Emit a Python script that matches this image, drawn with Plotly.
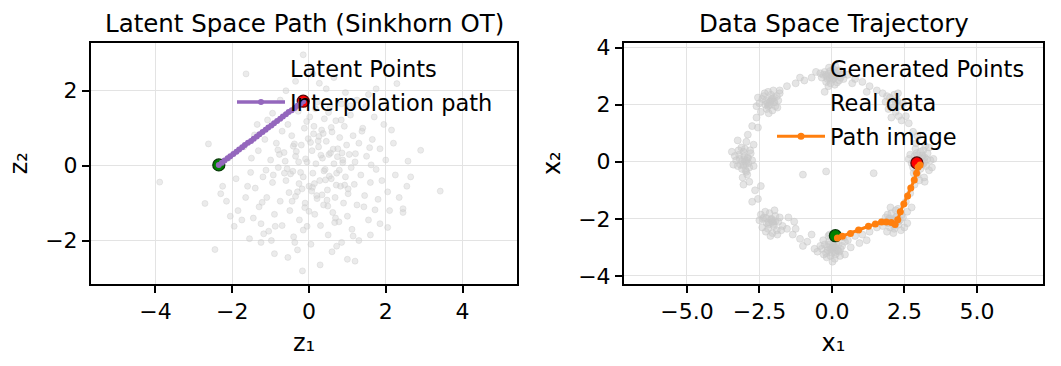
import plotly.graph_objects as go

# ---------------- data: latent space ----------------
latent_x = [-3.89,-2.71,-2.45,-1.64,-0.15,2.91,3.42,2.29,0.29,-0.17,1.20,1.30,-2.62,-2.25,-2.15,-2.05,-1.95,-1.85,-1.75,-1.65,
            -1.55,-1.45,-1.40,-1.30,-1.25,-1.20,-1.10,-1.05,-1.00,-0.95,-0.90,-0.85,-0.80,-0.75,-0.70,-0.65,-0.60,-0.55,-0.50,-0.45,
            -0.42,-0.40,-0.35,-0.30,-0.28,-0.25,-0.20,-0.15,-0.12,-0.10,-0.05,0.00,0.02,0.05,0.08,0.10,0.12,0.15,0.18,0.20,
            0.22,0.25,0.28,0.30,0.33,0.35,0.38,0.40,0.42,0.45,0.48,0.50,0.52,0.55,0.58,0.60,0.62,0.65,0.68,0.70,
            0.72,0.75,0.78,0.80,0.82,0.85,0.88,0.90,0.92,0.95,0.98,1.00,1.02,1.05,1.08,1.10,1.12,1.15,1.18,1.20,
            1.25,1.30,1.35,1.40,1.45,1.50,1.55,1.60,1.65,1.70,1.75,1.80,1.85,1.90,1.95,2.00,2.05,2.10,2.20,2.25,
            2.35,2.45,2.55,2.65,-2.30,-2.10,-1.90,-1.70,-1.50,-1.35,-1.15,-0.95,-0.75,-0.60,-0.35,0.10,0.45,0.65,0.95,1.25,
            1.55,1.75,-1.25,-0.90,-0.55,-0.30,0.60,0.85,1.00,1.60,1.85,2.05,2.45,
            -0.62,-0.48,-0.33,-0.18,-0.02,0.14,0.31,0.47,0.63,0.79,-0.70,-0.52,-0.38,-0.22,-0.06,0.09,0.26,0.43,0.58,0.74,
            -0.44,-0.27,-0.11,0.04,0.21,0.37,0.53,0.69,0.86,1.02,-0.81,-0.64,-0.15,0.00,0.17,0.34,0.51,0.67,0.84,1.15,
            -1.60,-1.42,-1.18,-0.98,-1.32,-1.08,-0.88,-1.52,-1.22,1.38,1.58,1.72,1.48,2.15,2.58,0.27,-0.37,0.72,1.08,-0.05,
            -0.57,-0.41,-0.26,-0.09,0.07,0.24,0.39,0.56,0.71,0.88,-0.93,-0.77,-0.35,0.13,0.49,0.93,1.21,1.43,-1.12,1.62]
latent_y = [-0.44,-1.01,-2.24,2.45,2.96,0.41,-0.68,2.19,-2.65,-2.81,-2.55,-2.00,0.58,-0.55,-0.95,-1.35,-1.62,-1.20,-1.45,-0.85,
            -1.95,-1.40,-0.60,-1.10,-1.55,-0.30,-0.85,-1.75,0.15,-0.45,-1.30,0.60,-0.05,-0.95,-1.60,0.35,-0.40,1.10,-1.20,0.80,
            -0.15,-1.90,0.25,-0.70,1.45,-1.45,0.55,-0.30,1.00,-1.00,0.10,-0.55,1.30,-2.10,0.40,-0.20,0.85,-1.30,0.05,-0.80,
            1.70,0.50,-0.40,-1.60,0.95,0.20,-1.05,1.25,-0.10,0.65,-0.65,-1.85,0.30,1.55,-0.35,0.90,-1.25,0.05,-0.85,1.20,
            -0.20,0.45,-1.50,0.75,-0.55,1.65,0.15,-1.00,1.05,-0.30,0.55,-1.35,-0.75,0.30,1.35,-0.05,-1.70,0.80,-0.50,0.10,
            -1.05,0.60,-0.25,1.00,-0.80,0.25,-1.45,-0.45,0.70,1.30,-0.10,-0.90,0.45,-0.40,1.10,0.15,-0.70,-1.20,0.60,-0.25,
            -0.85,-1.25,-0.55,-0.30,-0.75,0.20,-0.35,0.50,0.20,1.10,0.70,1.40,1.75,2.00,2.25,2.45,2.05,2.35,1.95,1.75,
            1.90,2.05,-2.05,-2.35,-2.45,-2.25,-2.30,-2.05,-2.50,-1.85,-1.55,-1.65,-1.15,
            0.12,-0.22,0.38,-0.62,0.72,-0.48,0.28,-0.92,0.44,-0.12,0.92,-0.72,0.58,-0.18,1.18,-0.58,0.78,-0.38,1.02,0.24,
            -0.95,0.10,-1.12,0.62,-0.88,0.86,-0.28,-1.40,0.34,-0.62,0.42,-0.20,-1.72,-1.22,1.52,-0.78,1.42,-1.52,1.22,-1.88,
            -0.55,0.82,-1.82,-2.00,0.40,1.22,-1.62,-0.18,-0.98,0.92,0.48,-1.18,1.58,0.95,0.12,2.20,-2.05,-2.15,1.60,-1.62,
            -0.08,0.52,-0.48,0.18,-0.68,0.66,-0.14,0.34,-0.52,0.08,-0.25,0.30,-0.82,1.05,-1.08,-0.52,0.32,-1.10,-0.12,0.02]

latent_path_x = [-2.35,-2.27,-2.20,-2.12,-2.05,-1.97,-1.89,-1.82,-1.74,-1.67,-1.59,-1.51,-1.44,-1.36,-1.29,
                 -1.21,-1.13,-1.06,-0.98,-0.91,-0.83,-0.75,-0.68,-0.60,-0.53,-0.45,-0.37,-0.30,-0.22,-0.15]
latent_path_y = [0.02,0.08,0.14,0.20,0.25,0.31,0.37,0.43,0.49,0.55,0.61,0.66,0.72,0.78,0.84,
                 0.90,0.96,1.02,1.07,1.13,1.19,1.25,1.31,1.37,1.43,1.48,1.54,1.60,1.66,1.72]
latent_start = (-2.35, 0.02)
latent_end = (-0.15, 1.72)

# ---------------- data: data space ----------------
real_x = [2.95,3.10,2.85,3.20,3.05,2.75,3.30,2.90,3.15,3.00,2.80,3.25,3.40,2.70,3.05,2.95,3.18,2.88,3.35,3.08,2.65,3.22,2.98,3.12,2.82,3.45,3.02,2.92,3.28,3.15,
          0.00,0.15,-0.15,0.25,-0.25,0.05,-0.05,0.35,-0.35,0.10,-0.10,0.20,-0.20,0.30,-0.30,0.02,-0.40,0.40,0.12,-0.12,0.08,-0.18,0.28,-0.08,0.18,
          -2.15,-2.00,-2.30,-1.95,-2.40,-2.10,-2.25,-1.85,-2.50,-2.05,-2.20,-1.90,-2.35,-2.60,-1.80,-2.12,-2.28,-2.02,-2.45,-1.98,-2.18,-2.32,-1.88,-2.08,-2.55,
          -3.00,-2.90,-3.15,-2.85,-3.20,-3.05,-2.95,-3.30,-2.80,-3.10,-2.75,-3.25,-3.00,-2.92,-3.18,-3.35,-2.88,-3.08,-2.70,-3.22,-3.02,-2.98,-3.12,-2.82,-3.40,
          -2.10,-1.95,-2.25,-2.00,-2.35,-1.85,-2.15,-2.40,-1.90,-2.05,-2.30,-1.80,-2.20,-2.50,-1.70,-2.08,-1.98,-2.28,-2.45,-1.88,-2.18,-2.02,-2.38,-1.75,-2.12,
          0.00,0.15,-0.15,0.25,-0.25,0.05,-0.05,0.35,-0.35,0.10,-0.10,0.20,-0.20,0.30,-0.30,0.02,-0.40,0.45,0.12,-0.12,0.08,-0.18,0.28,-0.08,0.18,-0.50,0.40,-0.02,0.22,-0.28,
          2.10,2.25,1.95,2.30,1.85,2.15,2.40,2.00,2.20,1.90,2.35,2.05,2.50,1.80,2.12,2.28,1.98,2.45,2.18,1.75,2.02,2.38,2.22,1.92,2.60,
          2.10,2.25,1.95,2.35,2.00,2.20,2.45,1.85,2.15,2.30,2.05,2.40,1.90,2.28,2.12,
          3.02,2.92,3.10,2.85,3.00,3.18,2.96,-0.02,0.10,-0.12,0.05,-0.06,0.16,-2.12,-2.22,-2.05,-2.18,-2.00,
          -3.02,-2.95,-3.10,-2.90,-3.05,-2.10,-2.18,-2.02,-2.25,-1.95,0.04,-0.06,0.12,-0.16,0.00,0.22,
          2.12,2.02,2.20,2.30,1.98,2.15]
real_y = [0.05,-0.10,0.20,0.15,-0.25,-0.05,0.30,-0.35,0.40,0.10,-0.20,-0.15,0.05,0.25,0.35,-0.45,-0.55,0.45,-0.30,-0.02,0.10,0.55,-0.12,0.22,-0.40,-0.20,-0.65,0.30,0.08,-0.08,
          3.00,3.10,2.90,2.85,3.15,3.25,2.75,3.05,2.95,2.70,3.30,3.20,2.80,2.95,3.05,2.88,3.10,2.90,3.35,2.65,3.12,3.00,3.20,2.92,2.78,
          2.10,2.25,2.00,1.95,2.20,2.35,1.85,2.15,2.05,1.80,2.45,2.30,2.30,1.95,2.40,2.00,2.15,2.50,1.75,2.08,1.70,2.40,1.90,2.20,2.25,
          0.00,0.15,-0.10,-0.20,0.25,0.35,-0.35,0.05,0.30,-0.25,0.05,-0.15,0.45,-0.45,0.10,0.20,-0.05,-0.55,-0.15,0.40,0.20,-0.30,0.50,0.40,-0.10,
          -2.05,-1.90,-2.15,-2.25,-1.95,-2.10,-1.80,-2.30,-2.40,-2.50,-1.75,-1.95,-2.35,-2.05,-2.25,-2.00,-1.70,-2.45,-1.85,-2.55,-2.20,-2.10,-2.00,-2.40,-2.60,
          -3.00,-2.85,-3.10,-3.15,-2.90,-2.70,-3.30,-2.95,-3.05,-3.40,-2.80,-2.65,-3.20,-3.05,-2.75,-3.50,-2.95,-2.80,-3.25,-2.60,-2.95,-3.35,-3.30,-2.55,-3.10,-3.15,-2.65,-3.05,-2.90,-3.25,
          -2.05,-1.90,-2.15,-2.20,-1.95,-2.35,-1.85,-2.30,-1.70,-2.45,-2.05,-1.80,-2.30,-2.10,-2.50,-1.65,-2.00,-1.95,-2.20,-2.25,-1.60,-2.40,-2.10,-1.85,-2.15,
          2.00,2.15,1.85,1.95,2.25,1.75,2.05,2.10,2.35,1.60,1.55,1.45,2.30,2.40,1.90,
          0.02,-0.08,0.12,0.05,-0.15,-0.02,0.22,3.02,2.96,3.08,2.92,3.18,3.02,2.12,2.05,2.22,1.98,2.10,
          0.08,-0.05,0.02,0.12,-0.12,-2.02,-2.12,-2.18,-1.98,-2.08,-2.92,-3.08,-3.02,-2.98,-3.18,-3.12,
          -2.02,-2.12,-1.95,-2.08,-1.98,-2.25]

gen_x = [-1.55,-1.25,-0.95,-0.70,-1.80,-1.10,-0.55,0.55,0.80,1.05,1.30,1.55,0.70,1.20,1.75,
         -2.60,-2.75,-2.90,-2.55,-2.95,-2.70,-3.25,-3.45,
         -2.85,-2.65,-2.55,-2.75,-2.45,-3.05,
         -1.55,-1.35,-1.10,-0.85,-1.25,-0.70,-1.00,-0.60,-1.50,-1.30,
         0.55,0.80,1.05,1.30,0.65,0.95,1.55,1.20,0.45,
         2.55,2.70,2.85,2.60,2.75,3.20,
         2.90,2.80,2.65,2.95,2.55,3.35,3.50,
         -1.00,-0.20,1.44,-0.25,
         3.05,2.90,3.15,0.05,-0.10,-2.10,-2.95,-2.05,0.00,2.15,-0.20,0.10,2.20,-2.20]
gen_y = [2.65,2.75,2.85,2.95,2.50,2.95,3.15,3.05,2.90,2.80,2.65,2.50,2.75,2.45,2.40,
         1.55,1.25,0.95,1.20,0.70,0.60,0.75,0.35,
         -0.70,-1.00,-1.30,-1.40,-0.85,-0.80,
         -2.35,-2.55,-2.70,-2.80,-2.35,-2.55,-2.95,-3.05,-1.95,-2.10,
         -2.75,-2.60,-2.55,-2.45,-3.00,-2.85,-2.30,-2.75,-3.25,
         -1.40,-1.10,-0.80,-1.75,-1.60,-0.70,
         0.65,1.05,1.35,0.90,1.60,0.50,0.10,
         -0.45,-0.34,-0.40,2.45,
         0.00,-0.15,0.12,-3.00,-2.90,2.12,0.05,-2.10,3.02,-2.05,3.05,-3.15,2.10,1.95]

path_img_x = [0.19,0.36,0.64,0.92,1.26,1.50,1.71,1.88,2.05,2.18,2.27,2.36,2.48,2.61,2.72,2.84,2.92,2.97,3.04]
path_img_y = [-2.67,-2.61,-2.51,-2.39,-2.26,-2.18,-2.11,-2.11,-2.13,-2.20,-2.03,-1.75,-1.48,-1.20,-0.92,-0.64,-0.40,-0.19,-0.11]
data_start = (0.12, -2.59)
data_end = (2.93, -0.04)

# ---------------- styles ----------------
FONT = "DejaVu Sans"
GRAY_L = "rgba(205,205,205,0.40)"
GRAY_R = "rgba(200,200,200,0.48)"
PURPLE = "#9467bd"
ORANGE = "#ff7f0e"

fig = go.Figure()

def cloud(x, y, xa, ya, color, size):
    return go.Scatter(x=x, y=y, mode="markers", xaxis=xa, yaxis=ya, showlegend=False,
                      marker=dict(size=size, color=color, line=dict(width=1, color=color)),
                      hoverinfo="skip")

def dummy(name, xa, ya, legend, group):
    return go.Scatter(x=[None], y=[None], mode="markers", xaxis=xa, yaxis=ya, name=name,
                      legend=legend, legendgroup=group,
                      marker=dict(size=6, color="rgba(0,0,0,0)"))

def endpoint(p, color, edge, xa, ya):
    return go.Scatter(x=[p[0]], y=[p[1]], mode="markers", xaxis=xa, yaxis=ya, showlegend=False,
                      marker=dict(size=12, color=color, line=dict(width=1.3, color=edge)))

# left panel
fig.add_trace(cloud(latent_x, latent_y, "x", "y", GRAY_L, 6))
fig.add_trace(dummy("Latent Points", "x", "y", "legend", "a"))
fig.add_trace(endpoint(latent_start, "green", "#0a3a0a", "x", "y"))
fig.add_trace(endpoint(latent_end, "red", "#5a0a0a", "x", "y"))
fig.add_trace(go.Scatter(x=latent_path_x, y=latent_path_y, mode="lines+markers", xaxis="x", yaxis="y",
                         name="Interpolation path", legend="legend", legendgroup="b",
                         line=dict(color=PURPLE, width=3.5), marker=dict(size=6, color=PURPLE)))

# right panel
fig.add_trace(cloud(gen_x, gen_y, "x2", "y2", GRAY_R, 7))
fig.add_trace(cloud(real_x, real_y, "x2", "y2", GRAY_R, 7))
fig.add_trace(dummy("Generated Points", "x2", "y2", "legend2", "c"))
fig.add_trace(dummy("Real data", "x2", "y2", "legend2", "d"))
fig.add_trace(endpoint(data_start, "green", "#0a3a0a", "x2", "y2"))
fig.add_trace(endpoint(data_end, "red", "#5a0a0a", "x2", "y2"))
fig.add_trace(go.Scatter(x=path_img_x, y=path_img_y, mode="lines+markers", xaxis="x2", yaxis="y2",
                         name="Path image", legend="legend2", legendgroup="e",
                         line=dict(color=ORANGE, width=3), marker=dict(size=7, color=ORANGE)))

# page body margin is removed (see post_script), so screen pixels map directly
W, H = 1061, 366
def px_x(p): return p / W
def px_y(p): return 1 - p / H

axis_common = dict(showline=True, mirror=True, linecolor="black", linewidth=2,
                   ticks="outside", ticklen=7, tickwidth=1.6, tickcolor="black",
                   showgrid=True, gridcolor="#e3e3e3", gridwidth=1.2, zeroline=False,
                   tickfont=dict(family=FONT, size=22, color="black"))

ydom = [px_y(286), px_y(37)]
leg_common = dict(bgcolor="rgba(0,0,0,0)", borderwidth=0, font=dict(family=FONT, size=22.5, color="black"),
                  tracegroupgap=2, itemwidth=48, xanchor="left", yanchor="top")
lab_font = dict(family=FONT, size=24, color="black")

fig.update_layout(
    width=W, height=H, margin=dict(l=0, r=0, t=0, b=0),
    paper_bgcolor="white", plot_bgcolor="white",
    xaxis=dict(domain=[px_x(91), px_x(517)], range=[-5.68, 5.42], anchor="y",
               tickvals=[-4, -2, 0, 2, 4],
               title=dict(text="z₁", font=lab_font, standoff=11),
               **axis_common),
    yaxis=dict(domain=ydom, range=[-3.15, 3.28], anchor="x",
               tickvals=[-2, 0, 2],
               title=dict(text="z₂", font=lab_font, standoff=11),
               **axis_common),
    xaxis2=dict(domain=[px_x(624), px_x(1043)], range=[-7.17, 7.28], anchor="y2",
                tickvals=[-5, -2.5, 0, 2.5, 5], tickformat=".1f",
                title=dict(text="x₁", font=lab_font, standoff=11),
                **axis_common),
    yaxis2=dict(domain=ydom, range=[-4.27, 4.17], anchor="x2",
                tickvals=[-4, -2, 0, 2, 4],
                title=dict(text="x₂", font=lab_font, standoff=11),
                **axis_common),
    legend=dict(x=px_x(232), y=px_y(41), **leg_common),
    legend2=dict(x=px_x(772), y=px_y(41), **leg_common),
    annotations=[
        dict(text="Latent Space Path (Sinkhorn OT)", x=px_x(304), y=px_y(0), xref="paper", yref="paper",
             showarrow=False, xanchor="center", yanchor="top",
             font=dict(family=FONT, size=24.5, color="black")),
        dict(text="Data Space Trajectory", x=px_x(834), y=px_y(0), xref="paper", yref="paper",
             showarrow=False, xanchor="center", yanchor="top",
             font=dict(family=FONT, size=24.5, color="black")),
    ],
)

fig.write_html("out.html", config={"displayModeBar": False},
               post_script="document.body.style.margin='0px';")
